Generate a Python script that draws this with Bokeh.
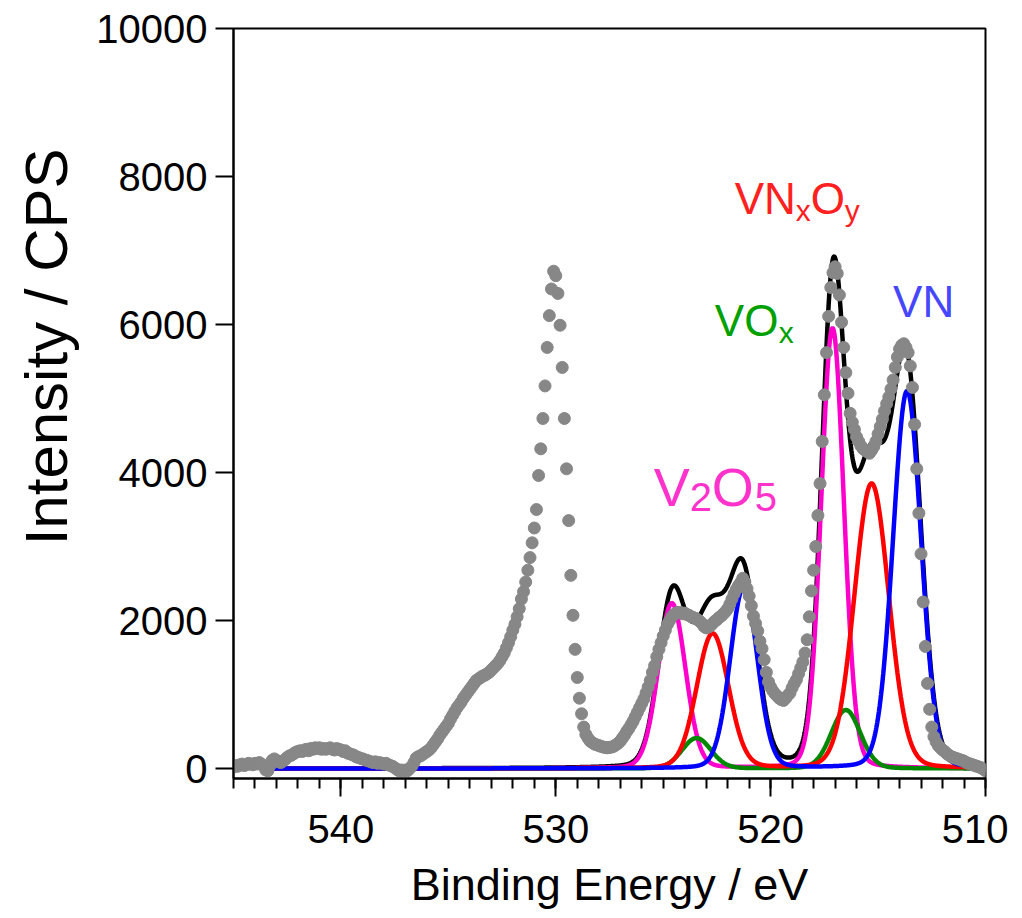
import numpy as np
from bokeh.plotting import figure
from bokeh.models import Range1d, FixedTicker, Label, Title
from bokeh.embed import file_html
from bokeh.resources import INLINE

# ---------------- data ----------------
# measured spectrum, 0.1 eV steps from 545.0 eV down to 510.0 eV
E_START = 545.0
E_STEP = 0.1
counts = [
    20, 40, 30, 50, 60, 40, 50, 70, 60, 50,            # 545.0-544.1
    70, 60, 80, 60, 40, -20, -30, 40, 110, 130,        # 544.0-543.1
    110, 90, 80, 100, 120, 150, 170, 180, 200, 220,    # 543.0-542.1
    230, 240, 230, 250, 260, 240, 270, 260, 280, 270,  # 542.0-541.1
    280, 260, 270, 260, 270, 280, 260, 250, 270, 260,  # 541.0-540.1
    250, 230, 240, 210, 200, 190, 180, 160, 150, 140,  # 540.0-539.1
    130, 120, 110, 100, 90, 80, 90, 70, 80, 70,        # 539.0-538.1
    60, 70, 50, 40, 30, 10, -10, -30, -20, -30,        # 538.0-537.1
    -20, -30, 0, 30, 80, 140, 160, 170, 190, 210,      # 537.0-536.1
    230, 250, 280, 320, 360, 400, 450, 490, 530, 570,  # 536.0-535.1
    610, 670, 720, 770, 820, 860, 900, 950, 990, 1030,           # 535.0-534.1
    1070, 1110, 1150, 1190, 1210, 1230, 1250, 1260, 1280, 1300,  # 534.0-533.1
    1330, 1360, 1390, 1420, 1460, 1510, 1560, 1630, 1700, 1780,  # 533.0-532.1
    1870, 1950, 2050, 2160, 2290, 2390, 2520, 2680, 2850, 3050,  # 532.0-531.1
    3250, 3500, 3960, 4320, 4730, 5170, 5690, 6120, 6480, 6720,  # 531.0-530.1
    6660, 6420, 5990, 5420, 4730, 4050, 3350, 2610, 2070, 1610,  # 530.0-529.1
    1230, 950, 740, 560, 460, 410, 370, 350, 330, 320,           # 529.0-528.1
    310, 300, 290, 285, 280, 285, 290, 300, 320, 340,            # 528.0-527.1
    370, 410, 450, 500, 540, 590, 640, 700, 760, 820,            # 527.0-526.1
    880, 940, 1020, 1100, 1190, 1300, 1390, 1510, 1610, 1700,    # 526.0-525.1
    1790, 1870, 1950, 2000, 2050, 2080, 2100, 2110, 2110, 2090,  # 525.0-524.1
    2100, 2080, 2070, 2050, 2040, 2030, 2010, 1990, 1960, 1920,  # 524.0-523.1
    1900, 1910, 1930, 1960, 1990, 2010, 2040, 2060, 2090, 2120,  # 523.0-522.1
    2160, 2220, 2290, 2360, 2420, 2470, 2510, 2570, 2520, 2430,  # 522.0-521.1
    2330, 2200, 2060, 1960, 1860, 1720, 1620, 1470, 1300, 1170,  # 521.0-520.1
    1100, 1050, 1010, 980, 950, 930, 920, 950, 990, 1020,        # 520.0-519.1
    1090, 1150, 1200, 1280, 1360, 1440, 1560, 1740, 2050, 2400,  # 519.0-518.1
    2680, 3000, 3420, 3850, 4420, 5050, 5620, 6110, 6500, 6700,  # 518.0-517.1
    6780, 6690, 6400, 6030, 5690, 5350, 5070, 4800, 4680, 4580,  # 517.0-516.1
    4480, 4420, 4360, 4320, 4300, 4280, 4260, 4300, 4350, 4420,  # 516.0-515.1
    4520, 4620, 4720, 4830, 4930, 5020, 5130, 5250, 5420, 5560,  # 515.0-514.1
    5670, 5720, 5740, 5690, 5620, 5440, 5150, 4650, 4050, 3450,  # 514.0-513.1
    2900, 2250, 1650, 1150, 800, 560, 430, 360, 310, 280,        # 513.0-512.1
    250, 230, 200, 180, 160, 150, 140, 130, 120, 110,            # 512.0-511.1
    100, 80, 70, 60, 50, 40, 30, 20, 10, -10,                    # 511.0-510.1
    -30,                                                          # 510.0
]
energy = [round(E_START - E_STEP * i, 1) for i in range(len(counts))]

# fitted peak components (2p3/2, 2p1/2): centre (eV), height (CPS), FWHM (eV)
vn_centre = [513.65, 521.25]
vn_height = [5100, 2450]
vn_fwhm = [1.55, 1.50]

vnxoy_centre = [515.30, 522.70]
vnxoy_height = [3850, 1820]
vnxoy_fwhm = [1.90, 1.75]

v2o5_centre = [517.12, 524.60]
v2o5_height = [5950, 2230]
v2o5_fwhm = [1.25, 1.50]

vox_centre = [516.50, 523.45]
vox_height = [790, 410]
vox_fwhm = [1.60, 1.60]

GL_MIX = 0.1           # Lorentzian fraction of the peak shape
FIT_FROM, FIT_TO = 543.5, 510.0

x_ticks = [510, 520, 530, 540]
y_ticks = [0, 2000, 4000, 6000, 8000, 10000]

# ---------------- build ----------------
e_fit = np.linspace(FIT_FROM, FIT_TO, 1676)


def component(centres, heights, fwhms):
    total = np.zeros_like(e_fit)
    for c, h, w in zip(centres, heights, fwhms):
        u = (e_fit - c) / w
        g = np.exp(-4 * np.log(2) * u ** 2)
        lo = 1.0 / (1.0 + 4 * u ** 2)
        total += h * ((1 - GL_MIX) * g + GL_MIX * lo)
    return total


vn = component(vn_centre, vn_height, vn_fwhm)
vnxoy = component(vnxoy_centre, vnxoy_height, vnxoy_fwhm)
v2o5 = component(v2o5_centre, v2o5_height, v2o5_fwhm)
vox = component(vox_centre, vox_height, vox_fwhm)
envelope = vn + vnxoy + v2o5 + vox

FONT = "Liberation Sans"

p = figure(width=1008, height=912, output_backend="svg", toolbar_location=None,
           x_range=Range1d(545, 510), y_range=Range1d(-135, 10000),
           min_border_left=233, min_border_right=23, min_border_top=28, min_border_bottom=134)
p.background_fill_color = "white"
p.border_fill_color = "white"
p.outline_line_color = "black"
p.outline_line_width = 2
p.outline_line_alpha = 1
p.xgrid.visible = False
p.ygrid.visible = False

LW = 4.5
p.line(e_fit, envelope, line_color="black", line_width=LW)
p.line(e_fit, v2o5, line_color="#ff00cc", line_width=LW)
p.line(e_fit, vox, line_color="#008800", line_width=LW)
p.line(e_fit, vnxoy, line_color="#ff0000", line_width=LW)
p.line(e_fit, vn, line_color="#0000ff", line_width=LW)
p.scatter(energy, counts, size=12, fill_color="#878787", line_color="#878787")

# axes
xa = p.xaxis[0]
xa.ticker = FixedTicker(ticks=x_ticks, minor_ticks=list(range(510, 546)))
xa.axis_label = "Binding Energy / eV"
ya = p.yaxis[0]
ya.ticker = FixedTicker(ticks=y_ticks, minor_ticks=[])
for ax in (xa, ya):
    ax.axis_line_width = 2
    ax.axis_line_color = "black"
    ax.major_tick_line_width = 2
    ax.minor_tick_line_width = 2
    ax.major_tick_in = 0
    ax.minor_tick_in = 0
    ax.major_tick_out = 18
    ax.major_label_text_font = FONT
    ax.major_label_text_font_size = "40px"
    ax.major_label_text_color = "black"
    ax.axis_label_text_font = FONT
    ax.axis_label_text_font_size = "45px"
    ax.axis_label_text_font_style = "normal"
    ax.axis_label_text_color = "black"
xa.minor_tick_out = 10
ya.minor_tick_out = 0
xa.major_label_standoff = 18
ya.major_label_standoff = 8
xa.axis_label_standoff = 13

# y axis title: in the left panel, end of text 120 px below the frame top
p.add_layout(Title(text="Intensity / CPS", align="right", offset=120,
                   vertical_align="top", standoff=24,
                   text_font=FONT, text_font_size="60px",
                   text_font_style="normal", text_color="black"), "left")

# peak labels built from main text and subscripts
RAISE = 22


def formula(x, y, parts, color, main="44px", sub="30px"):
    for text, dx, dy, is_sub in parts:
        p.add_layout(Label(x=x, y=y, x_offset=dx, y_offset=dy + RAISE, text=text,
                           text_font=FONT, text_font_size=sub if is_sub else main,
                           text_color=color, text_baseline="alphabetic"))


formula(521.67, 7400, [("VN", 0, 0, False), ("x", 61, -12, True),
                       ("O", 76, 0, False), ("y", 110, -12, True)], "#ff2020")
formula(522.6, 5755, [("VO", 0, 0, False), ("x", 64, -12, True)], "#00a000")
formula(514.3, 6010, [("VN", 0, 0, False)], "#4646ff")
formula(525.44, 3510, [("V", 0, 0, False), ("2", 36, -10, True),
                       ("O", 58, 0, False), ("5", 101, -10, True)], "#ff33cc",
        main="54px", sub="40px")

open("out.html", "w").write(file_html(p, INLINE))
